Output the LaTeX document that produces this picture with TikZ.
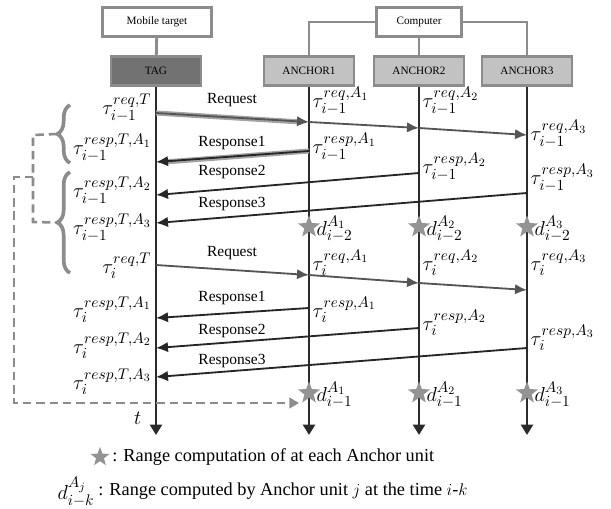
\documentclass[tikz,border=0pt]{standalone}
\usepackage{fontspec}
\setmainfont{Liberation Serif}
\DeclareMathSizes{14}{14}{10.5}{8}
\DeclareMathSizes{13}{13}{10}{7.5}
\usetikzlibrary{arrows.meta, positioning, calc, shapes.geometric, decorations.pathreplacing}
\definecolor{frame}{HTML}{8C8C8C}
\definecolor{tagfill}{HTML}{727272}
\definecolor{ancfill}{HTML}{C2C2C2}
\definecolor{life}{HTML}{2B2B2B}
\definecolor{reqcol}{HTML}{555555}
\tikzset{
  unitbox/.style={draw=frame, line width=2pt, fill=#1, minimum height=0.72cm, minimum width=2.25cm, font=\footnotesize},
  hostbox/.style={draw=frame, line width=2pt, fill=white, minimum height=0.72cm, font=\footnotesize},
  wire/.style={draw=frame, line width=2pt},
  lifeline/.style={draw=life, line width=1.8pt, -{Triangle[length=2.6mm,width=3mm]}},
  req/.style={draw=reqcol, line width=1.3pt, -{Latex[length=3mm,width=2.6mm]}},
  resp/.style={draw=black!85, line width=1.3pt, -{Latex[length=3mm,width=2.6mm]}},
  halo/.style={draw=frame!80, line width=3.6pt},
  msg/.style={font=\fontsize{11}{13}\selectfont, inner sep=1pt},
  stamp/.style={font=\fontsize{14}{16}\selectfont, inner sep=1pt},
  rangestar/.style={star, star points=5, star point ratio=2.4, fill=gray!85, minimum size=0.58cm, inner sep=0pt},
  curly/.style={draw=frame, line width=2.6pt, decorate, decoration={brace, amplitude=9pt}},
  loopback/.style={draw=frame, line width=1.8pt, dash pattern=on 6pt off 3.5pt},
  legend/.style={font=\fontsize{13}{15}\selectfont, inner sep=0pt, anchor=west},
}
\begin{document}
\begin{tikzpicture}[x=0.025cm, y=-0.025cm]
  \useasboundingbox (0,0) rectangle (611,508);
  % hosts and units
  \node[hostbox, minimum width=2.72cm] (mobile) at (157,22) {Mobile target};
  \node[hostbox, minimum width=2.12cm] (computer) at (419,22) {Computer};
  \node[unitbox=tagfill] (TAG) at (156,71) {TAG};
  \node[unitbox=ancfill] (A1) at (309,71) {ANCHOR1};
  \node[unitbox=ancfill] (A2) at (419,71) {ANCHOR2};
  \node[unitbox=ancfill] (A3) at (527,71) {ANCHOR3};
  \draw[wire] (mobile) -- (TAG);
  \draw[wire] (computer) -- (A2);
  \draw[wire] (computer.west) -| (A1.north);
  \draw[wire] (computer.east) -| (A3.north);
  \foreach \u in {TAG, A1, A2, A3}
    \draw[lifeline] (\u.south) -- (\u |- 0,435) coordinate (\u end);
  \node[anchor=east, stamp] (taxis) at (143,418) {$t$};

  % message end points on the lifelines
  \foreach \k/\a/\b/\c/\d in {1/113/122/128/135, 2/265/275/283/290} {
    \coordinate (q\k T) at (TAG |- 0,\a);
    \coordinate (q\k A1) at (A1 |- 0,\b);
    \coordinate (q\k A2) at (A2 |- 0,\c);
    \coordinate (q\k A3) at (A3 |- 0,\d);
  }
  \foreach \k/\a/\b/\c/\d/\e/\f in {1/151/162/173/195/193/223, 2/308/318/328/348/348/377} {
    \coordinate (p\k A1) at (A1 |- 0,\a);
    \coordinate (p\k T1) at (TAG |- 0,\b);
    \coordinate (p\k A2) at (A2 |- 0,\c);
    \coordinate (p\k T2) at (TAG |- 0,\d);
    \coordinate (p\k A3) at (A3 |- 0,\e);
    \coordinate (p\k T3) at (TAG |- 0,\f);
  }

  % round i-1 and round i
  \draw[halo] (q1T) -- ($(q1A1)+(-8,0)$);
  \draw[halo] (p1A1) -- ($(p1T1)+(8,0)$);
  \foreach \k in {1,2} {
    \draw[req] (q\k T) -- (q\k A1);
    \draw[req] (q\k A1) -- (q\k A2);
    \draw[req] (q\k A2) -- (q\k A3);
    \draw[resp] (p\k A1) -- (p\k T1);
    \draw[resp] (p\k A2) -- (p\k T2);
    \draw[resp] (p\k A3) -- (p\k T3);
  }
  \foreach \n/\y/\txt in {m1/100/Request, m2/143/Response1, m3/172/Response2, m4/204/Response3,
                          m5/253/Request, m6/298/Response1, m7/331/Response2, m8/361/Response3}
    \node[msg] (\n) at (232,\y) {\txt};

  % time stamps at the tag
  \foreach \n/\y/\txt in {
      l1/108/{\tau^{req,T}_{i-1}}, l2/148/{\tau^{resp,T,A_1}_{i-1}},
      l3/191/{\tau^{resp,T,A_2}_{i-1}}, l4/228/{\tau^{resp,T,A_3}_{i-1}},
      l5/266/{\tau^{req,T}_{i}}, l6/310/{\tau^{resp,T,A_1}_{i}},
      l7/346/{\tau^{resp,T,A_2}_{i}}, l8/382/{\tau^{resp,T,A_3}_{i}}}
    \node[stamp, anchor=east] (\n) at (153,\y) {$\txt$};

  % time stamps at the anchors
  \foreach \j in {1,2,3} {
    \node[stamp, anchor=west] (rb\j) at ($(A\j |- 0,263)+(2,0)$) {$\tau^{req,A_\j}_{i}$};
  }
  \node[stamp, anchor=west] (ra1) at ($(A1 |- 0,101)+(2,0)$) {$\tau^{req,A_1}_{i-1}$};
  \node[stamp, anchor=west] (ra2) at ($(A2 |- 0,101)+(2,0)$) {$\tau^{req,A_2}_{i-1}$};
  \node[stamp, anchor=west] (ra3) at ($(A3 |- 0,134)+(2,0)$) {$\tau^{req,A_3}_{i-1}$};
  \foreach \j/\ya/\yb in {1/147/310, 2/167/323, 3/178/338} {
    \node[stamp, anchor=west] (sa\j) at ($(A\j |- 0,\ya)+(2,0)$) {$\tau^{resp,A_\j}_{i-1}$};
    \node[stamp, anchor=west] (sb\j) at ($(A\j |- 0,\yb)+(2,0)$) {$\tau^{resp,A_\j}_{i}$};
  }

  % range computations
  \foreach \j in {1,2,3} {
    \node[rangestar] (s1\j) at (A\j |- 0,227) {};
    \node[stamp, anchor=west] (d1\j) at ($(s1\j.east)+(-1,2)$) {$d^{A_\j}_{i-2}$};
    \node[rangestar] (s2\j) at (A\j |- 0,393) {};
    \node[stamp, anchor=west] (d2\j) at ($(s2\j.east)+(-1,2)$) {$d^{A_\j}_{i-1}$};
  }

  % grouping of the rounds
  \draw[curly] (70,163) -- coordinate[xshift=-0.32cm] (b1) (70,105);
  \draw[curly] (70,273) -- coordinate[xshift=-0.32cm] (b2) (70,172);
  \draw[loopback] (b1) -- (33,135) -- (33,222) -- (b2);
  \draw[loopback, -{Triangle[length=2.4mm,width=2.6mm]}] (33,177) -- (14,177) -- (14,403) -- ($(s21.west |- 0,403)+(-3,0)$);

  % legend
  \node[rangestar, minimum size=0.5cm] (key) at (100,457) {};
  \node[legend] (keytxt) at (112,457) {: Range computation of at each Anchor unit};
  \node[stamp, anchor=east] (dkey) at (96,492) {$d^{A_j}_{i-k}$};
  \node[legend] (dtxt) at (98,491) {: Range computed by Anchor unit $j$ at the time $i$-$k$};
\end{tikzpicture}
\end{document}
